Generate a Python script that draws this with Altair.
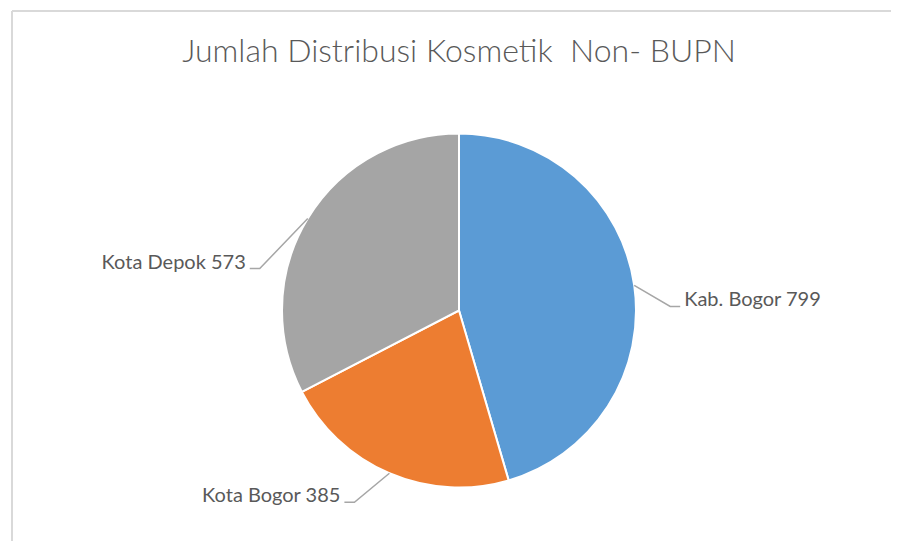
import math
import altair as alt
import pandas as pd

# ---- data ----
categories = ["Kab. Bogor", "Kota Bogor", "Kota Depok"]
values = [799, 385, 573]
colors = ["#5B9BD5", "#ED7D31", "#A5A5A5"]
title_text = "Jumlah Distribusi Kosmetik\u00a0 Non- BUPN"

# ---- layout (pixels inside the view) ----
PAD_L, PAD_T = 4, 3
VIEW_W, VIEW_H = 879, 530
CX, CY, R = 447, 299.5, 177
# elbow offset of each leader line from the slice edge point
leader_offsets = [(36, 21), (-35, 29), (-48, 50)]
TAIL = 10
GAP = 4

total = sum(values)
rows, line_rows, label_rows = [], [], []
start = 0.0
for i, (cat, v) in enumerate(zip(categories, values)):
    span = v / total * 2 * math.pi
    mid = start + span / 2
    start += span
    ex = CX + R * math.sin(mid)
    ey = CY - R * math.cos(mid)
    dx, dy = leader_offsets[i]
    bx, by = ex + dx, ey + dy
    side = 1 if dx > 0 else -1
    tx = bx + side * TAIL
    rows.append({"cat": cat, "value": v, "order": i})
    for k, (px, py) in enumerate([(ex, ey), (bx, by), (tx, by)]):
        line_rows.append({"cat": cat, "k": k, "px": px, "py": py})
    label_rows.append({"label": f"{cat} {v}", "px": tx + side * GAP, "py": by,
                       "side": "right" if side > 0 else "left"})

df = pd.DataFrame(rows)
lines = pd.DataFrame(line_rows)
labels = pd.DataFrame(label_rows)

xs = alt.Scale(domain=[0, VIEW_W], range=[0, VIEW_W])
ys = alt.Scale(domain=[0, VIEW_H], range=[0, VIEW_H])

pie = alt.Chart(df).mark_arc(x=CX, y=CY, outerRadius=R, stroke="white", strokeWidth=2).encode(
    theta=alt.Theta("value:Q", stack=True),
    order=alt.Order("order:Q"),
    color=alt.Color("cat:N", scale=alt.Scale(domain=categories, range=colors), legend=None),
)

leader = alt.Chart(lines).mark_line(color="#A6A6A6", strokeWidth=1.5).encode(
    x=alt.X("px:Q", scale=xs, axis=None),
    y=alt.Y("py:Q", scale=ys, axis=None),
    detail="cat:N",
    order="k:Q",
)

text_common = dict(font="Lato", fontSize=20, color="#595959", baseline="alphabetic")
lab_r = alt.Chart(labels).transform_filter(alt.datum.side == "right").mark_text(align="left", **text_common).encode(
    x=alt.X("px:Q", scale=xs, axis=None), y=alt.Y("py:Q", scale=ys, axis=None), text="label:N")
lab_l = alt.Chart(labels).transform_filter(alt.datum.side == "left").mark_text(align="right", **text_common).encode(
    x=alt.X("px:Q", scale=xs, axis=None), y=alt.Y("py:Q", scale=ys, axis=None), text="label:N")

title = alt.Chart(pd.DataFrame({"t": [title_text]})).mark_text(
    font="Lato", fontSize=32, fontWeight=300, color="#595959", align="center", baseline="alphabetic"
).encode(x=alt.value(CX), y=alt.value(51), text="t:N")

border_top = alt.Chart(pd.DataFrame({"a": [0]})).mark_rule(color="#D9D9D9", strokeWidth=2).encode(
    x=alt.value(0), x2=alt.value(VIEW_W), y=alt.value(0))
border_left = alt.Chart(pd.DataFrame({"a": [0]})).mark_rule(color="#D9D9D9", strokeWidth=2).encode(
    x=alt.value(0), y=alt.value(0), y2=alt.value(VIEW_H))

chart = alt.layer(border_top, border_left, pie, leader, lab_r, lab_l, title).properties(
    width=VIEW_W, height=VIEW_H, padding={"left": PAD_L, "top": PAD_T, "right": 0, "bottom": 0},
    autosize=alt.AutoSizeParams(type="none"),
).configure_view(stroke=None).configure(background="white")

chart.save("out.html", embed_options={"renderer": "svg", "actions": False})
